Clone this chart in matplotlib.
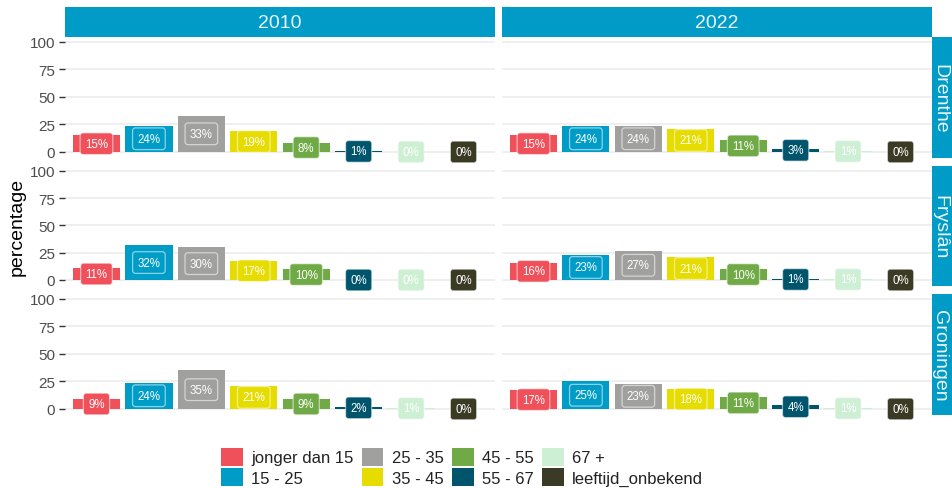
import matplotlib
matplotlib.use("Agg")
import matplotlib.pyplot as plt
from matplotlib.patches import Rectangle, Patch

plt.rcParams['font.family'] = ['Liberation Sans', 'DejaVu Sans']

# ---- data -------------------------------------------------------------
age_groups = ["jonger dan 15", "15 - 25", "25 - 35", "35 - 45",
              "45 - 55", "55 - 67", "67 +", "leeftijd_onbekend"]
years = ["2010", "2022"]
provinces = ["Drenthe", "Fryslân", "Groningen"]

drenthe_2010 = [15, 24, 33, 19, 8, 1, 0, 0]
drenthe_2022 = [15, 24, 24, 21, 11, 3, 1, 0]
fryslan_2010 = [11, 32, 30, 17, 10, 0, 0, 0]
fryslan_2022 = [16, 23, 27, 21, 10, 1, 1, 0]
groningen_2010 = [9, 24, 35, 21, 9, 2, 1, 0]
groningen_2022 = [17, 25, 23, 18, 11, 4, 1, 0]

y_ticks = [0, 25, 50, 75, 100]

values = {
    ("Drenthe", "2010"): drenthe_2010, ("Drenthe", "2022"): drenthe_2022,
    ("Fryslân", "2010"): fryslan_2010, ("Fryslân", "2022"): fryslan_2022,
    ("Groningen", "2010"): groningen_2010, ("Groningen", "2022"): groningen_2022,
}

# ---- style ------------------------------------------------------------
colors = ["#F0505A", "#009CC8", "#A0A09F", "#E6DC00",
          "#6FAA46", "#00546C", "#CDEFD3", "#3B3A24"]
strip_color = "#009BC6"
grid_color = "#EBEBEB"
tick_color = "#4D4D4D"

W, H = 953, 489
fig = plt.figure(figsize=(W / 100, H / 100), dpi=100)

def fx(px):
    return px / W

def fy(py):
    return 1 - py / H

col_x = [(65, 495), (502, 932)]
row_y = [(38, 159), (167, 287), (295, 416)]
ylim = (-5.5, 104.5)

for r, prov in enumerate(provinces):
    for c, yr in enumerate(years):
        x0, x1 = col_x[c]
        y0, y1 = row_y[r]
        ax = fig.add_axes([fx(x0), fy(y1), fx(x1 - x0), (y1 - y0) / H])
        vals = values[(prov, yr)]
        xs = list(range(1, len(vals) + 1))
        ax.set_xlim(0.4, len(vals) + 0.6)
        ax.set_ylim(*ylim)
        for t in y_ticks:
            ax.axhline(t, color=grid_color, lw=1.1, zorder=0)
        ax.bar(xs, vals, width=0.9, color=colors, zorder=2)
        for x, v, col in zip(xs, vals, colors):
            ax.text(x, v / 2, f"{v}%", ha="center", va="center",
                    color="white", fontsize=8.3, zorder=4,
                    bbox=dict(boxstyle="round,pad=0.42,rounding_size=0.25",
                              fc=col, ec=(1, 1, 1, 0.55), lw=0.9))
        for s in ax.spines.values():
            s.set_visible(False)
        ax.set_xticks([])
        if c == 0:
            ax.set_yticks(y_ticks)
            ax.set_yticklabels([str(t) for t in y_ticks])
            ax.tick_params(axis="y", length=4, width=1, color="#333333",
                           labelcolor=tick_color, labelsize=11, pad=3)
        else:
            ax.set_yticks([])

# top strips
for c, yr in enumerate(years):
    x0, x1 = col_x[c]
    fig.patches.append(Rectangle((fx(x0), fy(38)), fx(x1 - x0), 30 / H,
                                 transform=fig.transFigure, fc=strip_color,
                                 ec="none", zorder=1))
    fig.text(fx((x0 + x1) / 2), fy(23), yr, ha="center", va="center",
             color="#EAF6FB", fontsize=14)

# right strips
for r, prov in enumerate(provinces):
    y0, y1 = row_y[r]
    fig.patches.append(Rectangle((fx(932), fy(y1)), fx(30), (y1 - y0) / H,
                                 transform=fig.transFigure, fc=strip_color,
                                 ec="none", zorder=1))
    fig.text(fx(940), fy((y0 + y1) / 2), prov, ha="center", va="center",
             rotation=-90, color="#EAF6FB", fontsize=14)

fig.text(fx(17), fy(227), "percentage", rotation=90, ha="center",
         va="center", fontsize=14, color="black")

handles = [Patch(facecolor=col, edgecolor="none", label=lab)
           for col, lab in zip(colors, age_groups)]
fig.legend(handles=handles, ncol=4, loc="center",
           bbox_to_anchor=(fx(462), fy(468)), frameon=False,
           fontsize=12, handlelength=1.3, handleheight=1.3,
           handletextpad=0.5, columnspacing=0.5, labelspacing=0.15,
           labelcolor="#222222")

fig.savefig("out.png", dpi=100)
